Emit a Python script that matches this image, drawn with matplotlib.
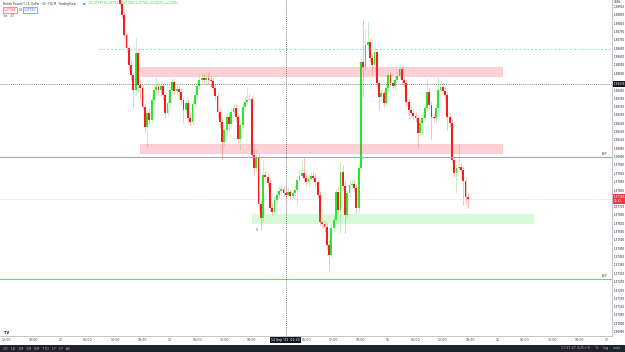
import matplotlib
matplotlib.use("Agg")
import matplotlib.pyplot as plt
import matplotlib.transforms as mtransforms
from matplotlib.patches import Rectangle

W, H = 625, 352

# GBPUSD 30m candles (open of each bar = close of previous bar)
first_open = 1.38976
closes = [
    1.38916, 1.38850, 1.38730, 1.38652, 1.38550, 1.38490, 1.38400, 1.38622, 1.38430, 1.38412,
    1.38298, 1.38178, 1.38262, 1.38220, 1.38340, 1.38400, 1.38418, 1.38400, 1.38424, 1.38370,
    1.38262, 1.38322, 1.38400, 1.38448, 1.38394, 1.38406, 1.38388, 1.38340, 1.38280, 1.38322,
    1.38232, 1.38208, 1.38316, 1.38370, 1.38424, 1.38460, 1.38472, 1.38460, 1.38472, 1.38460,
    1.38454, 1.38412, 1.38364, 1.38268, 1.38208, 1.38088, 1.38160, 1.38238, 1.38196, 1.38268,
    1.38292, 1.38238, 1.38106, 1.38190, 1.38298, 1.38328, 1.38340, 1.38346, 1.38010, 1.37932,
    1.37998, 1.37716, 1.37632, 1.37890, 1.37878, 1.37842, 1.37692, 1.37668, 1.37740, 1.37770,
    1.37794, 1.37806, 1.37782, 1.37770, 1.37788, 1.37764, 1.37782, 1.37800, 1.37860, 1.37884,
    1.37902, 1.37872, 1.37848, 1.37866, 1.37884, 1.37872, 1.37848, 1.37770, 1.37608, 1.37596,
    1.37578, 1.37470, 1.37410, 1.37572, 1.37620, 1.37788, 1.37680, 1.37908, 1.37824, 1.37650,
    1.37782, 1.37830, 1.37836, 1.37812, 1.37692, 1.37932, 1.38568, 1.38538, 1.38670, 1.38688,
    1.38592, 1.38550, 1.38628, 1.38442, 1.38358, 1.38382, 1.38322, 1.38412, 1.38490, 1.38442,
    1.38424, 1.38460, 1.38484, 1.38526, 1.38460, 1.38442, 1.38328, 1.38280, 1.38262, 1.38244,
    1.38232, 1.38142, 1.38202, 1.38232, 1.38292, 1.38388, 1.38310, 1.38238, 1.38232, 1.38292,
    1.38400, 1.38418, 1.38394, 1.38370, 1.38238, 1.38202, 1.37980, 1.37902, 1.37932, 1.37938,
    1.37920, 1.37854, 1.37758, 1.37746,
]
highs = [
    1.39030, 1.38928, 1.38868, 1.38742, 1.38670, 1.38580, 1.38508, 1.38712, 1.38640, 1.38460,
    1.38430, 1.38316, 1.38280, 1.38292, 1.38358, 1.38430, 1.38478, 1.38448, 1.38460, 1.38442,
    1.38388, 1.38346, 1.38424, 1.38472, 1.38466, 1.38430, 1.38424, 1.38412, 1.38358, 1.38340,
    1.38346, 1.38262, 1.38340, 1.38400, 1.38448, 1.38484, 1.38508, 1.38496, 1.38502, 1.38508,
    1.38490, 1.38472, 1.38436, 1.38388, 1.38292, 1.38232, 1.38184, 1.38262, 1.38268, 1.38292,
    1.38322, 1.38316, 1.38262, 1.38214, 1.38322, 1.38364, 1.38418, 1.38382, 1.38364, 1.38040,
    1.38040, 1.38022, 1.37740, 1.37980, 1.37920, 1.37902, 1.37866, 1.37722, 1.37764, 1.37800,
    1.37824, 1.37842, 1.37830, 1.37812, 1.37818, 1.37806, 1.37806, 1.37830, 1.37884, 1.37920,
    1.37980, 1.37992, 1.37896, 1.37890, 1.37914, 1.37908, 1.37896, 1.37872, 1.37794, 1.37632,
    1.37620, 1.37602, 1.37500, 1.37596, 1.37650, 1.37812, 1.37824, 1.37968, 1.37950, 1.37860,
    1.37806, 1.37854, 1.37866, 1.37860, 1.37836, 1.37956, 1.38592, 1.38820, 1.38760, 1.38808,
    1.38712, 1.38616, 1.38652, 1.38646, 1.38460, 1.38406, 1.38400, 1.38436, 1.38508, 1.38508,
    1.38466, 1.38484, 1.38508, 1.38544, 1.38544, 1.38478, 1.38460, 1.38352, 1.38304, 1.38286,
    1.38268, 1.38250, 1.38226, 1.38256, 1.38316, 1.38472, 1.38412, 1.38334, 1.38262, 1.38316,
    1.38478, 1.38460, 1.38442, 1.38418, 1.38394, 1.38262, 1.38226, 1.38004, 1.37956, 1.38082,
    1.37962, 1.37944, 1.37878, 1.37782,
]
lows = [
    1.38904, 1.38832, 1.38712, 1.38628, 1.38520, 1.38460, 1.38298, 1.38370, 1.38388, 1.38340,
    1.38280, 1.38142, 1.38058, 1.38190, 1.38202, 1.38322, 1.38382, 1.38370, 1.38364, 1.38340,
    1.38232, 1.38244, 1.38304, 1.38382, 1.38370, 1.38376, 1.38352, 1.38316, 1.38202, 1.38256,
    1.38202, 1.38184, 1.38190, 1.38292, 1.38346, 1.38400, 1.38442, 1.38436, 1.38430, 1.38436,
    1.38412, 1.38388, 1.38340, 1.38232, 1.38172, 1.37980, 1.38064, 1.38136, 1.38160, 1.38172,
    1.38250, 1.38214, 1.38082, 1.38040, 1.38166, 1.38280, 1.38316, 1.38322, 1.37992, 1.37890,
    1.37908, 1.37680, 1.37560, 1.37608, 1.37854, 1.37812, 1.37668, 1.37644, 1.37650, 1.37722,
    1.37752, 1.37782, 1.37758, 1.37746, 1.37758, 1.37740, 1.37746, 1.37764, 1.37710, 1.37842,
    1.37866, 1.37854, 1.37824, 1.37830, 1.37854, 1.37848, 1.37824, 1.37752, 1.37590, 1.37572,
    1.37548, 1.37440, 1.37308, 1.37392, 1.37548, 1.37602, 1.37650, 1.37542, 1.37800, 1.37542,
    1.37632, 1.37758, 1.37812, 1.37788, 1.37662, 1.37668, 1.37914, 1.38358, 1.38520, 1.38640,
    1.38568, 1.38490, 1.38520, 1.38412, 1.38280, 1.38340, 1.38298, 1.38304, 1.38388, 1.38418,
    1.38400, 1.38406, 1.38442, 1.38466, 1.38436, 1.38412, 1.38304, 1.38220, 1.38238, 1.38220,
    1.38208, 1.38052, 1.38124, 1.38130, 1.38214, 1.38274, 1.38286, 1.38100, 1.38208, 1.38214,
    1.38274, 1.38382, 1.38370, 1.38346, 1.38160, 1.38178, 1.37962, 1.37878, 1.37782, 1.37908,
    1.37896, 1.37710, 1.37710, 1.37692,
]

# time axis: a label every 12 bars, first label 50 bars before the first candle
# (the day label "14" sits under the crosshair date box)
time_labels = ["12:00", "18:00", "12", "06:00", "12:00", "18:00", "13", "06:00", "12:00",
               "18:00", "", "06:00", "12:00", "18:00", "15", "06:00", "12:00", "18:00",
               "16", "06:00", "12:00", "18:00", "17"]

# drawn levels / zones
cyan_level = 1.38646
green_levels = [1.37995, 1.37266]
red_zones = [(1.38484, 1.38538), (1.38024, 1.38076)]
green_zone = (1.37596, 1.37656)
cross_price = 1.38436
cross_bar = 73

RED = "#ff1a1a"
GREEN = "#27e827"
RED_W = "#f8b4b4"
GREEN_W = "#b9f0b9"

fig = plt.figure(figsize=(W / 100, H / 100), dpi=100)
fig.patch.set_facecolor("white")
ax = fig.add_axes([0, 16 / H, 612 / W, 336 / H])

px_per_bar = 2.275
x0_px = 119.75
ax.set_xlim(-x0_px / px_per_bar, (612 - x0_px) / px_per_bar)
ax.set_ylim(1.3894 - 0.00006 * 336, 1.3894)

opens = [first_open] + closes[:-1]
xs = list(range(len(closes)))
up = [c >= o for o, c in zip(opens, closes)]
ax.vlines(xs, lows, highs, colors=[GREEN_W if u else RED_W for u in up], lw=0.6, zorder=2)
bottoms = [min(o, c) for o, c in zip(opens, closes)]
heights = [max(abs(c - o), 0.00004) for o, c in zip(opens, closes)]
ax.bar(xs, heights, bottom=bottoms, width=0.8, color=[GREEN if u else RED for u in up],
       linewidth=0, zorder=3)

# zones and lines
for lo_, hi_ in red_zones:
    ax.add_patch(Rectangle((9, lo_), 159, hi_ - lo_, facecolor="#f23645", alpha=0.22,
                           edgecolor="#f23645", lw=0.5, zorder=4))
ax.add_patch(Rectangle((58, green_zone[0]), 124, green_zone[1] - green_zone[0],
                       facecolor="#33ee33", alpha=0.2, edgecolor="none", zorder=4))
ax.hlines(cyan_level, -9, 215.5, colors="#7fd6ea", lw=0.7, linestyles=(0, (2, 2)), zorder=4)
for lv in green_levels:
    ax.axhline(lv, color="#5ddf5d", lw=0.8, zorder=4)
    ax.text(213, lv + 0.00008, "BLP", fontsize=2.2, color="#333", ha="center", va="bottom")
ax.axhline(closes[-1], color="#f7a0a8", lw=0.5, ls=(0, (1, 2)), zorder=1)
ax.axhline(cross_price, color="#555", lw=0.6, ls=(0, (1, 1.5)), zorder=5)
ax.axvline(cross_bar, color="#555", lw=0.6, ls=(0, (1, 1.5)), zorder=5)
ax.text(60, 1.3757, "Hi", fontsize=2.2, color="#555", ha="left", va="top")

# axes styling
for s in ["top", "left"]:
    ax.spines[s].set_visible(False)
for s in ["right", "bottom"]:
    ax.spines[s].set_color("#b8bbc4")
    ax.spines[s].set_linewidth(0.6)
ax.yaxis.tick_right()
yt = [1.3695 + 0.0005 * k for k in range(40)]
ax.set_yticks(yt)
ax.set_yticklabels(["" if min(abs(v - cross_price), abs(v - closes[-1])) < 0.00025
                    else f"{v:.5f}" for v in yt])
ax.tick_params(axis="y", length=0, pad=1.2, labelsize=2.0, labelcolor="#131722")
ax.set_xticks([-50 + 12 * k for k in range(len(time_labels))])
ax.set_xticklabels(time_labels)
ax.tick_params(axis="x", length=0, pad=1.5, labelsize=2.3, labelcolor="#444")

trans = mtransforms.blended_transform_factory(ax.transAxes, ax.transData)
ax.text(1.003, cross_price, f"{cross_price:.5f}", transform=trans, fontsize=2.0, color="white",
        ha="left", va="center", bbox=dict(boxstyle="square,pad=0.3", fc="#131722", ec="none"))
ax.text(1.003, closes[-1], f"{closes[-1]:.5f}\n02:33", transform=trans, fontsize=2.0,
        color="white", ha="left", va="center", linespacing=1.1,
        bbox=dict(boxstyle="square,pad=0.3", fc="#f23645", ec="none"))
ax.text(1.003, 1.38925, "USD\u25be", transform=trans, fontsize=2.0, color="#131722",
        ha="left", va="center")

transx = mtransforms.blended_transform_factory(ax.transData, ax.transAxes)
ax.text(cross_bar, -0.006, "14 Sep '21  01:30", transform=transx, fontsize=2.3, color="white",
        ha="center", va="top", bbox=dict(boxstyle="square,pad=0.4", fc="#131722", ec="none"))


def px(x, y):
    return x / W, 1 - y / H


# legend (top left)
fig.text(*px(3, 3.5), "British Pound / U.S. Dollar \u00b7 30 \u00b7 FXCM \u00b7 TradingView",
         fontsize=2.1, color="#333", va="center")
fig.text(*px(83, 3.5), "\u25cf", fontsize=2.1, color="#26a69a", va="center")
fig.text(*px(89, 3.5), "O1.37769 H1.37773 L1.37739 C1.37746 \u22120.00021 (\u22120.02%)",
         fontsize=2.1, color="#2bd82b", va="center")
fig.text(*px(4, 10), "1.37746", fontsize=2.2, color="#f23645", va="center",
         bbox=dict(boxstyle="square,pad=0.3", fc="white", ec="#f23645", lw=0.4))
fig.text(*px(19, 10), "0.4", fontsize=2.0, color="#555", va="center")
fig.text(*px(24, 10), "1.37750", fontsize=2.2, color="#2962ff", va="center",
         bbox=dict(boxstyle="square,pad=0.3", fc="white", ec="#2962ff", lw=0.4))
fig.text(*px(3, 16), "Vol \u00b7 47", fontsize=2.2, color="#555", va="center")
fig.text(*px(4, 333), "TV", fontsize=2.6, color="#131722", va="center", weight="bold")

# bottom toolbar
fig.add_artist(Rectangle((0, 0), 1, 7 / H, transform=fig.transFigure, fc="#1e222d", ec="none"))
fig.text(*px(3, 348.5), "1D   5D   1M   3M   6M   YTD   1Y   5Y   All", fontsize=2.3,
         color="#b2b5be", va="center")
fig.text(*px(620, 348.5), "17:27:27 (UTC+1)     %     log     auto", fontsize=2.3,
         color="#b2b5be", va="center", ha="right")

fig.savefig("out.png", dpi=100)
